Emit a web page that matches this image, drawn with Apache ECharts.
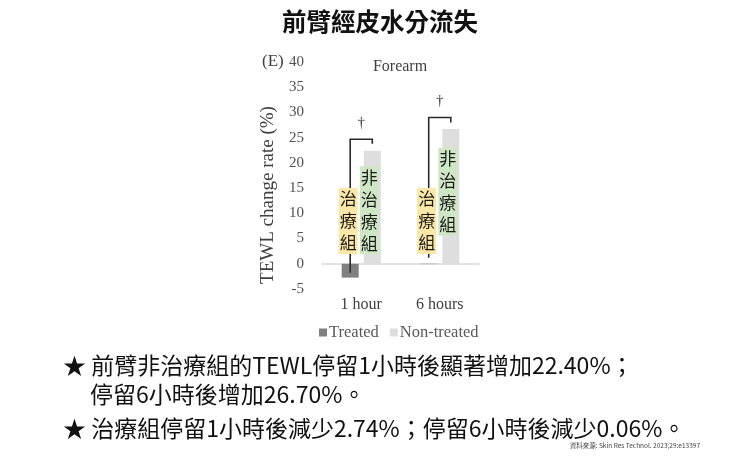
<!DOCTYPE html>
<html><head><meta charset="utf-8">
<script src="https://cdn.jsdelivr.net/npm/echarts@6/dist/echarts.min.js"></script>
<style>html,body{margin:0;padding:0;background:#fff}#c{width:740px;height:463px}</style>
</head><body><div id="c"></div>
<script>
// ---- data ----
const categories = ['1 hour', '6 hours'];
const seriesNames = ['Treated', 'Non-treated'];
const treated = [-2.74, -0.06];
const nonTreated = [22.40, 26.70];
const yMin = -5, yMax = 40, yStep = 5;
// significance brackets (value units)
const bracketTop = [24.7, 29.0];
const bracketLeftEnd = [-1.8, 1.2];
const bracketRightEnd = [23.8, 28.0];
// annotation tag centres (value units)
const treatedTagMid = [8.5, 8.5];
const nonTreatedTagMid = [10.6, 14.3];
const treatedTag = '治療組';
const nonTreatedTag = '非治療組';
const mainTitle = '前臂經皮水分流失';
const panelTag = '(E)';
const panelTitle = 'Forearm';
const yAxisTitle = 'TEWL change rate (%)';
const notes = [
  '★ 前臂非治療組的TEWL停留1小時後顯著增加22.40%；',
  '停留6小時後增加26.70%。',
  '★ 治療組停留1小時後減少2.74%；停留6小時後減少0.06%。'
];
const source = '資料來源: Skin Res Technol. 2023;29:e13397';

// ---- style ----
const SERIF = '"Liberation Serif","DejaVu Serif",serif';
const CJK = '"Noto Sans CJK TC","Noto Sans",sans-serif';
const BAR_W = 17, GAP = 0.3;

const chart = echarts.init(document.getElementById('c'), null, {renderer: 'canvas'});

function renderItem(params, api) {
  const i = api.value(0);
  const off = (BAR_W + BAR_W * GAP) / 2;
  const cx = api.coord([i, 0])[0];
  const xl = cx - off, xr = cx + off;
  const yTop = api.coord([i, api.value(1)])[1];
  const yL = api.coord([i, api.value(2)])[1];
  const yR = api.coord([i, api.value(3)])[1];
  const yT = api.coord([i, api.value(4)])[1];
  const yN = api.coord([i, api.value(5)])[1];
  return {
    type: 'group',
    children: [
      {type: 'polyline', shape: {points: [[xl, yL], [xl, yTop], [xr, yTop], [xr, yR]]},
        style: {stroke: '#2b2b2b', lineWidth: 1.6, fill: null}},
      {type: 'text', style: {text: '†', x: cx, y: yTop - 16, align: 'center', verticalAlign: 'middle',
        font: '15px ' + SERIF, fill: '#333'}},
      {type: 'text', style: {text: treatedTag.split('').join('\n'), x: xl - 2, y: yT,
        align: 'center', verticalAlign: 'middle', font: '17px ' + CJK, lineHeight: 22,
        fill: '#1a1a1a', backgroundColor: '#fce8a6', padding: [0, 1]}},
      {type: 'text', style: {text: nonTreatedTag.split('').join('\n'), x: xr - 3, y: yN,
        align: 'center', verticalAlign: 'middle', font: '17px ' + CJK, lineHeight: 22,
        fill: '#1a1a1a', backgroundColor: '#cfe6c5', padding: [0, 1]}}
    ]
  };
}

const option = {
  animation: false,
  backgroundColor: '#fff',
  grid: {left: 322, right: 261, top: 62, bottom: 174},
  legend: {
    data: seriesNames, top: 319, left: 314, itemWidth: 8, itemHeight: 8, itemGap: 11,
    icon: 'rect', textStyle: {fontFamily: SERIF, fontSize: 16.5, color: '#595959', padding: [0, 0, 0, -3]}
  },
  xAxis: {
    type: 'category', data: categories,
    axisLine: {show: true, onZero: true, lineStyle: {color: '#d9d9d9', width: 1.5}},
    axisTick: {show: false},
    axisLabel: {fontFamily: SERIF, fontSize: 16, color: '#404040', margin: 8}
  },
  yAxis: {
    type: 'value', min: yMin, max: yMax, interval: yStep,
    axisLine: {show: false}, axisTick: {show: false}, splitLine: {show: false},
    axisLabel: {fontFamily: SERIF, fontSize: 15, color: '#505050', margin: 18}
  },
  series: [
    {name: seriesNames[0], type: 'bar', data: treated, barWidth: BAR_W, barGap: (GAP * 100) + '%',
      itemStyle: {color: '#808080'}},
    {name: seriesNames[1], type: 'bar', data: nonTreated, barWidth: BAR_W,
      itemStyle: {color: '#dedede'}},
    {type: 'custom', z: 5, renderItem: renderItem, silent: true,
      encode: {x: 0, y: 1},
      data: categories.map((c, i) => [i, bracketTop[i], bracketLeftEnd[i], bracketRightEnd[i], treatedTagMid[i], nonTreatedTagMid[i]])}
  ],
  graphic: [
    {type: 'text', x: 380, y: 22, style: {text: mainTitle, font: 'bold 24.5px ' + CJK, fill: '#111', align: 'center', verticalAlign: 'middle'}},
    {type: 'text', x: 262, y: 62, style: {text: panelTag, font: '17px ' + SERIF, fill: '#404040', verticalAlign: 'middle'}},
    {type: 'text', x: 400, y: 67, style: {text: panelTitle, font: '16px ' + SERIF, fill: '#404040', align: 'center', verticalAlign: 'middle'}},
    {type: 'text', x: 268, y: 195, rotation: Math.PI / 2, style: {text: yAxisTitle, font: '19px ' + SERIF, fill: '#404040', align: 'center', verticalAlign: 'middle'}},
    {type: 'text', x: 63, y: 365, style: {text: notes[0], font: '23px ' + CJK, fill: '#111', verticalAlign: 'middle'}},
    {type: 'text', x: 90, y: 394, style: {text: notes[1], font: '23px ' + CJK, fill: '#111', verticalAlign: 'middle'}},
    {type: 'text', x: 63, y: 428, style: {text: notes[2], font: '23px ' + CJK, fill: '#111', verticalAlign: 'middle'}},
    {type: 'text', x: 700, y: 446, style: {text: source, font: '6.5px ' + CJK, fill: '#444', align: 'right', verticalAlign: 'middle'}}
  ]
};
chart.setOption(option);
</script>
</body></html>
